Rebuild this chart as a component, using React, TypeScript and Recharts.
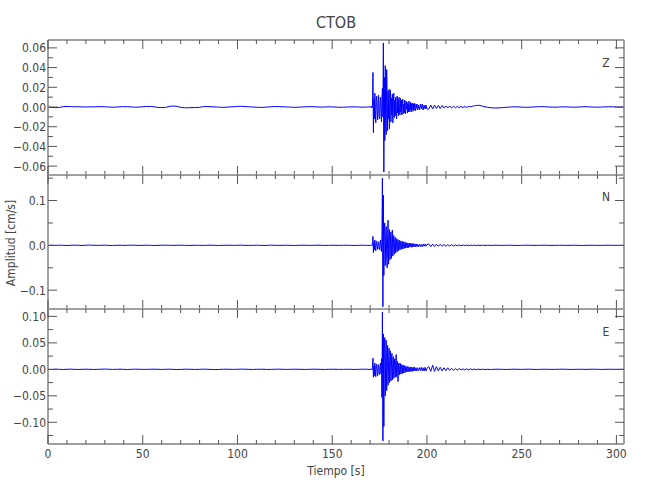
import React from 'react';
import { LineChart, Line, XAxis, YAxis } from 'recharts';

// ---------- data (amplitudes in 10^-3 cm/s) ----------
const UNIT = 0.001;

// sampling segments of the record: start time [s] and step [s]
const SEGMENTS = [
  { start: 0, step: 2 },
  { start: 170.25, step: 0.25 },
  { start: 195.5, step: 0.5 },
  { start: 201, step: 1 },
  { start: 232, step: 2 },
];

const X_TICKS = [0, 10, 20, 30, 40, 50, 60, 70, 80, 90, 100, 110, 120, 130, 140, 150, 160, 170, 180, 190, 200, 210, 220, 230, 240, 250, 260, 270, 280, 290, 300];
const X_LABELED = [0, 50, 100, 150, 200, 250, 300];

const Z_Y_TICKS = [-0.06, -0.05, -0.04, -0.03, -0.02, -0.01, 0, 0.01, 0.02, 0.03, 0.04, 0.05, 0.06];
const Z_Y_LABELED = [-0.06, -0.04, -0.02, 0, 0.02, 0.04, 0.06];
const N_Y_TICKS = [-0.1, -0.05, 0, 0.05, 0.1, 0.15];
const N_Y_LABELED = [-0.1, 0, 0.1];
const E_Y_TICKS = [-0.125, -0.1, -0.075, -0.05, -0.025, 0, 0.025, 0.05, 0.075, 0.1];
const E_Y_LABELED = [-0.1, -0.05, 0, 0.05, 0.1];

// Z component
const Z_PRE = [0, -0.5, -0.6, -0.4, 0.3, 0.6, 0.4, 0.2, 0.3, 0.1,
  0, 0.2, 0.1, 0.3, 0.4, 0.2, 0, -0.2, -0.1, 0.2,
  0.4, 0.3, 0.1, -0.2, -0.1, 0.3, 0.5, 0.6, 0.2, -0.4,
  -0.6, -0.5, 0.6, 1.0, 0.7, -0.4, -0.7, -0.8, -0.6, -0.5,
  -0.3, 0.4, 0.5, 0.3, 0.1, -0.1, -0.3, -0.2, 0.1, 0.3,
  0.6, 0.7, 0.5, 0.2, 0, -0.2, -0.4, -0.3, 0, 0.3,
  0.5, 0.4, 0.2, 0.1, -0.1, -0.3, -0.2, 0, 0.2, 0.4,
  0.3, 0.1, -0.1, 0, 0.2, 0.1, -0.1, -0.3, -0.2, 0,
  0.1, 0.2, 0, -0.2, -0.1, 0.2];
const Z_EVENT = [0.3, -0.5, 0.5, -1, 3, 35, -26, 8, -12, 14,
  -6, -16, 9, 11, -4, -13, 6, 12, -9, -12,
  4, 10, -7, -15, 8, 19, -10, 65, -66, 30,
  -34, 42, -20, -28, 38, 10, -24, 16, -12, 18,
  -22, 6, 17, -15, 9, -8, 13, -16, 4, 14,
  -11, 7, -9, 10, -4, -12, 11, -6, 8, -9,
  10, -3, -8, 9, -5, 7, -8, 4, 8, -7,
  3, -6, 7, -3, -7, 6, -2, 5, -6, 3,
  -5, 6, -2, -5, 5, -3, 4, -5, 2, 4,
  -4, 3, -3, 4, -2, -4, 3, -1, 3, -3];
const Z_LATE = [2, -3, 3, -2, 3, -3, 2, -2, 2, -2];
const Z_CODA = [-2, 2, -2, 2, -1.5, 1.5, -1.5, 1.5, -1, 1,
  -1, 1, -1, 0.8, -0.8, 0.6, -0.6, 0.5, -0.5, 0.5,
  -0.3, 0.5, 0.2, 0.8, 1.2, 1.5, 1.8, 1.5, 1, 0.5];
const Z_POST = [-0.3, -0.8, -1.0, -0.9, -0.6, -0.3, 0, 0.2, 0.1, -0.1,
  -0.3, -0.2, 0, 0.2, 0.4, 0.3, 0.1, -0.1, -0.2, 0,
  0.2, 0.1, -0.1, -0.2, 0, 0.2, 0.3, 0.1, -0.1, -0.2,
  0, 0.1, 0.3, 0.2, 0, -0.1, 0];

// N component
const N_PRE = [0, 0.3, -0.2, 0.4, 0.1, -0.3, 0.2, 0.5, 0.1, -0.2,
  0.3, 0.6, 0.2, -0.1, 0.2, 0.4, 0, -0.3, 0.1, 0.3,
  -0.1, 0.2, 0.5, 0.2, -0.2, 0.1, 0.4, 0.1, -0.3, 0,
  0.3, 0.5, 0.2, -0.1, 0.2, 0.4, 0.1, -0.2, 0, 0.3,
  0.1, -0.2, 0.2, 0.4, 0, -0.3, 0.1, 0.3, 0.2, -0.1,
  0.2, 0.4, 0.1, -0.2, 0.1, 0.3, 0, -0.2, 0.2, 0.4,
  0.1, -0.1, 0.2, 0.3, 0, -0.2, 0.1, 0.3, 0.2, -0.1,
  0.1, 0.4, 0.2, -0.2, 0, 0.3, 0.1, -0.1, 0.2, 0.3,
  0, -0.2, 0.1, 0.3, 0.1, -0.3];
const N_EVENT = [0.3, -0.5, 0.5, -1, 4, 20, -16, 6, -10, 12,
  -5, -12, 8, 10, -4, -9, 5, 8, -6, -10,
  4, 12, -6, -14, 20, 150, -137, 112, -67, 40,
  50, -45, 20, 42, -30, -50, 25, 56, -42, 10,
  35, -32, 12, 30, -29, 8, 34, -24, 5, 22,
  -20, 9, 18, -17, 4, 15, -14, 6, 13, -12,
  3, 11, -10, 5, 10, -9, 2, 9, -8, 4,
  8, -7, 3, 7, -6, 2, 6, -6, 3, 5,
  -5, 2, 5, -4, 1, 5, -4, 2, 4, -4,
  1, 4, -3, 2, 3, -3, 1, 3, -3, 2];
const N_LATE = [-3, 3, -3, 2, -3, 3, -2, 3, -2, 2];
const N_CODA = [3, -3, 3, -2.5, 2.5, -2, 2.5, -2, 2, -2,
  1.5, -1.5, 1.5, -1.5, 1, -1, 1, -1, 1, -0.8,
  0.8, -0.7, 0.6, -0.6, 0.5, -0.5, 0.5, -0.4, 0.4, -0.3];
const N_POST = [0.2, -0.2, 0.3, 0.1, -0.2, 0.2, 0.3, 0, -0.2, 0.1,
  0.3, 0.2, -0.1, 0, 0.2, 0.3, 0.1, -0.2, 0, 0.2,
  0.1, -0.1, 0.2, 0.3, 0, -0.2, 0.1, 0.2, 0.1, -0.1,
  0, 0.2, 0.3, 0.1, -0.1, 0, 0.1];

// E component
const E_PRE = [0, -0.2, 0.3, 0.1, -0.3, 0.2, 0.4, 0, -0.2, 0.1,
  0.3, 0.1, -0.2, 0, 0.3, 0.5, 0.2, -0.1, 0.1, 0.3,
  0, -0.3, 0.1, 0.4, 0.2, -0.1, 0, 0.2, 0.4, 0.1,
  -0.2, 0.1, 0.3, 0, -0.3, -0.1, 0.2, 0.3, 0, -0.2,
  0.1, 0.4, 0.2, -0.2, -0.4, -0.2, 0.1, 0.3, 0.1, -0.1,
  0.2, 0.4, 0.3, 0, -0.2, 0.1, 0.3, 0.1, -0.2, 0,
  0.2, 0.4, 0.1, -0.1, 0.1, 0.3, 0.2, -0.1, -0.2, 0.1,
  0.3, 0.2, 0, -0.2, 0.1, 0.3, 0.1, -0.1, 0.1, 0.2,
  0, -0.2, 0.1, 0.3, 0.2, -0.2];
const E_EVENT = [0.3, -0.5, 0.5, -1, 4, 21, -15, 6, -12, 12,
  -5, -14, 8, 10, -4, -12, 5, 9, -7, -10,
  4, 12, -8, 20, -53, 108, -135, 67, -108, 40,
  60, -50, 25, 55, -40, 10, 45, -30, 15, 40,
  -25, 12, 35, -22, 8, 30, -20, 10, 24, -17,
  6, 20, -15, 10, 28, -14, 5, 15, -23, 8,
  12, -10, 4, 11, -9, 3, 9, -8, 4, 8,
  -7, 2, 7, -6, 3, 6, -5, 2, 5, -5,
  1, 5, -4, 2, 4, -4, 1, 4, -4, 2,
  4, -3, 1, 4, -3, 2, 3, -3, 1, 3];
const E_LATE = [-3, 3, -2, 4, -3, 3, -3, 4, -3, 2];
const E_CODA = [5, -4, 8, -4, 5, -3, 4, -3, 3, -2.5,
  3, -2, 2, -2, 1.5, -1.5, 1.5, -1.2, 1, -1,
  1, -0.8, 0.8, -0.6, 0.6, -0.5, 0.5, -0.4, 0.4, -0.3];
const E_POST = [0.1, -0.2, 0.2, 0.3, 0, -0.2, 0.1, 0.3, 0.1, -0.1,
  0.2, 0.3, 0, -0.2, 0.1, 0.2, 0.1, -0.1, 0, 0.2,
  0.3, 0.1, -0.2, 0, 0.2, 0.1, -0.1, 0.1, 0.3, 0.1,
  -0.1, 0, 0.2, 0.1, -0.1, 0, 0.1];

function buildTrace(parts: number[][]) {
  const out: { t: number; v: number }[] = [];
  parts.forEach((vals, s) => {
    const { start, step } = SEGMENTS[s];
    vals.forEach((v, i) => out.push({ t: start + i * step, v: v * UNIT }));
  });
  return out;
}

const Z_DATA = buildTrace([Z_PRE, Z_EVENT, Z_LATE, Z_CODA, Z_POST]);
const N_DATA = buildTrace([N_PRE, N_EVENT, N_LATE, N_CODA, N_POST]);
const E_DATA = buildTrace([E_PRE, E_EVENT, E_LATE, E_CODA, E_POST]);

// ---------- styling / layout ----------
const W = 650;
const H = 500;
const PLOT_LEFT = 48;
const PLOT_RIGHT = 624;
const X_DOMAIN: [number, number] = [0, 304];
const FONT = "'Liberation Sans Narrow', 'DejaVu Sans Condensed', 'Arial Narrow', sans-serif";
const FRAME = '#a0a0a0';
const TICK = '#555555';
const TEXT = '#444444';
const TRACE = '#0000ff';

const PANELS = [
  { name: 'Z', data: Z_DATA, top: 40, bottom: 175, domain: [-0.069, 0.068] as [number, number], ticks: Z_Y_TICKS, labeled: Z_Y_LABELED, decimals: 2, labelY: 62 },
  { name: 'N', data: N_DATA, top: 175, bottom: 309, domain: [-0.142, 0.157] as [number, number], ticks: N_Y_TICKS, labeled: N_Y_LABELED, decimals: 1, labelY: 196 },
  { name: 'E', data: E_DATA, top: 309, bottom: 444, domain: [-0.141, 0.114] as [number, number], ticks: E_Y_TICKS, labeled: E_Y_LABELED, decimals: 2, labelY: 331 },
];

const inList = (list: number[], v: number) => list.some((l) => Math.abs(l - v) < 1e-9);

function fmt(v: number, d: number) {
  if (Math.abs(v) < 1e-12) return (0).toFixed(d);
  return v < 0 ? '\u2212' + Math.abs(v).toFixed(d) : v.toFixed(d);
}

function makeXTick(side: 'top' | 'bottom', showLabel: boolean, edgeY: number) {
  return (p: any) => {
    const v = p.payload.value;
    const major = inList(X_LABELED, v);
    const len = major ? 9 : 4;
    const dir = side === 'bottom' ? -1 : 1;
    return (
      <g>
        <line x1={p.x} x2={p.x} y1={edgeY} y2={edgeY + dir * len} stroke={TICK} strokeWidth={1} />
        {showLabel && major ? (
          <text x={p.x} y={edgeY + 14} textAnchor="middle" fontSize={12} fill={TEXT} fontFamily={FONT}>
            {v}
          </text>
        ) : null}
      </g>
    );
  };
}

function makeYTick(side: 'left' | 'right', labeled: number[], decimals: number) {
  const edgeX = side === 'left' ? PLOT_LEFT : PLOT_RIGHT;
  return (p: any) => {
    const v = p.payload.value;
    const major = inList(labeled, v);
    const len = major ? 9 : 5;
    const dir = side === 'left' ? 1 : -1;
    return (
      <g>
        <line x1={edgeX} x2={edgeX + dir * len} y1={p.y} y2={p.y} stroke={TICK} strokeWidth={1} />
        {side === 'left' && major ? (
          <text x={edgeX - 2} y={p.y + 4.5} textAnchor="end" fontSize={12} fill={TEXT} fontFamily={FONT}>
            {fmt(v, decimals)}
          </text>
        ) : null}
      </g>
    );
  };
}

function Panel({ panel, isLast }: { panel: (typeof PANELS)[number]; isLast: boolean }) {
  return (
    <div style={{ position: 'absolute', left: 0, top: 0, width: W, height: H }}>
      <LineChart
        width={W}
        height={H}
        data={panel.data}
        margin={{ top: panel.top - 1, bottom: H - panel.bottom - 1, left: PLOT_LEFT - 1, right: W - PLOT_RIGHT - 1 }}
      >
        <XAxis
          xAxisId="b"
          dataKey="t"
          type="number"
          domain={X_DOMAIN}
          ticks={X_TICKS}
          interval={0}
          height={1}
          tickSize={0}
          tickMargin={0}
          orientation="bottom"
          axisLine={{ stroke: FRAME, strokeWidth: 2 }}
          tickLine={false}
          tick={makeXTick('bottom', isLast, panel.bottom)}
          allowDataOverflow
        />
        <XAxis
          xAxisId="t"
          dataKey="t"
          type="number"
          domain={X_DOMAIN}
          ticks={X_TICKS}
          interval={0}
          height={1}
          tickSize={0}
          tickMargin={0}
          orientation="top"
          axisLine={{ stroke: FRAME, strokeWidth: 2 }}
          tickLine={false}
          tick={makeXTick('top', false, panel.top)}
          allowDataOverflow
        />
        <YAxis
          yAxisId="l"
          type="number"
          domain={panel.domain}
          ticks={panel.ticks}
          interval={0}
          width={1}
          tickSize={0}
          tickMargin={0}
          orientation="left"
          axisLine={{ stroke: FRAME, strokeWidth: 2 }}
          tickLine={false}
          tick={makeYTick('left', panel.labeled, panel.decimals)}
          allowDataOverflow
        />
        <YAxis
          yAxisId="r"
          type="number"
          domain={panel.domain}
          ticks={panel.ticks}
          interval={0}
          width={1}
          tickSize={0}
          tickMargin={0}
          orientation="right"
          axisLine={{ stroke: FRAME, strokeWidth: 2 }}
          tickLine={false}
          tick={makeYTick('right', panel.labeled, panel.decimals)}
          allowDataOverflow
        />
        <Line
          xAxisId="t"
          yAxisId="r"
          dataKey="v"
          stroke="none"
          dot={false}
          activeDot={false}
          isAnimationActive={false}
        />
        <Line
          xAxisId="b"
          yAxisId="l"
          dataKey="v"
          type="linear"
          stroke={TRACE}
          strokeWidth={1}
          dot={false}
          activeDot={false}
          isAnimationActive={false}
        />
      </LineChart>
    </div>
  );
}

export default function App() {
  return (
    <div style={{ position: 'absolute', left: 0, top: 0, width: W, height: H, background: '#fff', overflow: 'hidden' }}>
      {PANELS.map((p, i) => (
        <Panel key={p.name} panel={p} isLast={i === PANELS.length - 1} />
      ))}
      <svg width={W} height={H} style={{ position: 'absolute', left: 0, top: 0, pointerEvents: 'none' }}>
        <text x={336} y={28} textAnchor="middle" fontSize={16} fill={TEXT} fontFamily={FONT}>
          CTOB
        </text>
        <text x={336} y={475} textAnchor="middle" fontSize={12} fill={TEXT} fontFamily={FONT}>
          Tiempo [s]
        </text>
        <text x={15} y={243} textAnchor="middle" fontSize={12} fill={TEXT} fontFamily={FONT} transform="rotate(-90 15 243)">
          Amplitud [cm/s]
        </text>
        {PANELS.map((p) => (
          <text key={p.name} x={606} y={p.labelY + 5} textAnchor="middle" fontSize={12} fill={TEXT} fontFamily={FONT}>
            {p.name}
          </text>
        ))}
      </svg>
    </div>
  );
}
